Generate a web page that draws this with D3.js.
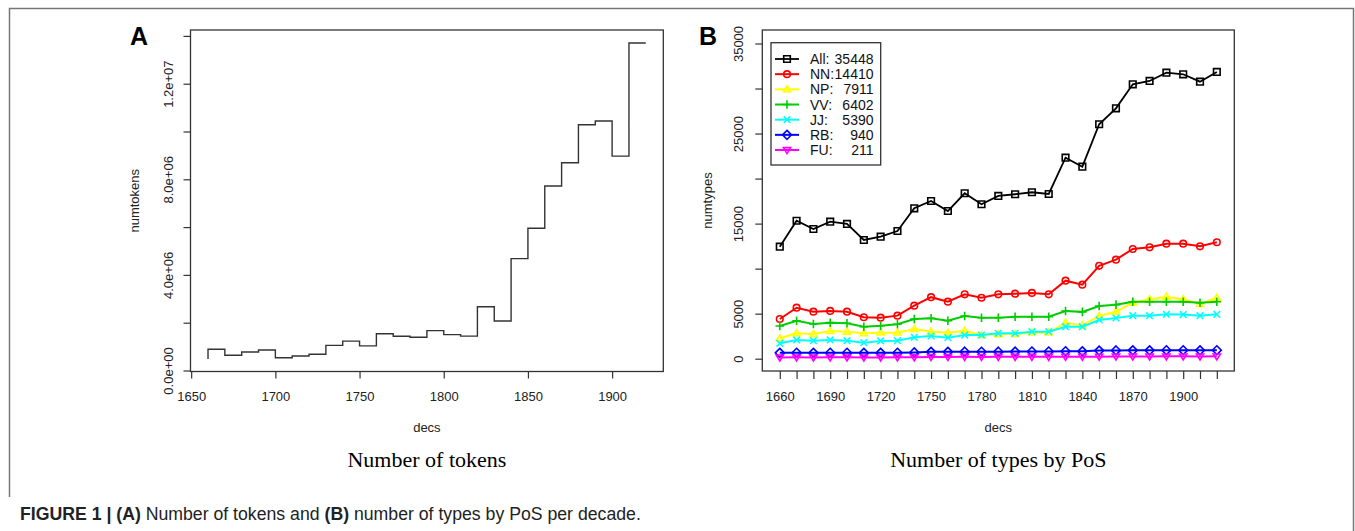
<!DOCTYPE html>
<html>
<head>
<meta charset="utf-8">
<style>
    body { margin: 0; background: #fff; }
    svg { display: block; font-family: "Liberation Sans", Arial, Helvetica, sans-serif; }
    .tick line { stroke: #333; stroke-width: 1.2; }
    .tick text { font-size: 13px; fill: #222; }
</style>
</head>
<body>
<svg width="1355" height="531"></svg>

<script src="https://d3js.org/d3.v7.min.js"></script>
<script>
    // decades used by both panels
    let decades = [1660, 1670, 1680, 1690, 1700, 1710, 1720, 1730, 1740, 1750, 1760, 1770, 1780, 1790,
        1800, 1810, 1820, 1830, 1840, 1850, 1860, 1870, 1880, 1890, 1900, 1910, 1920]

    // panel A: number of tokens per decade
    let numtokens = [4.8e5, 8.87e5, 6.36e5, 7.74e5, 8.58e5, 5.36e5, 6.07e5, 6.78e5, 1.05e6, 1.23e6,
        1.03e6, 1.54e6, 1.43e6, 1.39e6, 1.67e6, 1.50e6, 1.44e6, 2.67e6, 2.07e6, 4.68e6, 5.95e6,
        7.72e6, 8.69e6, 1.028e7, 1.044e7, 8.97e6, 1.370e7]

    // panel B: number of types per PoS
    let typesAll = [12440, 15320, 14400, 15210, 14960, 13180, 13550, 14180, 16700, 17510, 16400, 18370,
        17150, 18070, 18260, 18480, 18290, 22320, 21320, 26030, 27800, 30470, 30840, 31760, 31580, 30760, 31840]
    let typesNN = [4410, 5660, 5220, 5300, 5220, 4600, 4550, 4780, 5890, 6830, 6330, 7150, 6770, 7150,
        7220, 7300, 7150, 8660, 8220, 10310, 11000, 12180, 12370, 12770, 12770, 12480, 12930]
    let typesNP = [2270, 2820, 2740, 3080, 3000, 2820, 2890, 2890, 3300, 3000, 2890, 3110, 2630, 2710,
        2740, 2890, 2890, 4000, 3700, 4740, 5220, 6220, 6600, 6880, 6600, 6070, 6770]
    let typesVV = [3630, 4220, 3850, 4000, 3930, 3550, 3660, 3820, 4410, 4490, 4220, 4740, 4550, 4550,
        4660, 4660, 4660, 5300, 5200, 5850, 6000, 6330, 6330, 6330, 6330, 6220, 6330]
    let typesJJ = [1710, 2080, 2000, 2080, 2000, 1780, 1970, 2000, 2380, 2520, 2330, 2630, 2630, 2820,
        2820, 3000, 3000, 3550, 3550, 4300, 4520, 4780, 4780, 4930, 4900, 4780, 4930]
    let typesRB = [650, 660, 650, 660, 660, 650, 650, 660, 700, 760, 760, 780, 770, 780,
        790, 800, 800, 830, 820, 900, 920, 930, 930, 940, 940, 930, 940]
    let typesFU = [140, 150, 140, 150, 150, 140, 140, 150, 170, 200, 190, 210, 200, 210,
        210, 210, 210, 220, 220, 230, 240, 250, 250, 260, 260, 250, 260]

    let posLabels = ["All:", "NN:", "NP:", "VV:", "JJ:", "RB:", "FU:"]
    let posTotals = [35448, 14410, 7911, 6402, 5390, 940, 211]

    let tokenTicks = [0, 2e6, 4e6, 6e6, 8e6, 1e7, 1.2e7, 1.4e7]
    let tokenLabels = { 0: "0.0e+00", 4e6: "4.0e+06", 8e6: "8.0e+06", 1.2e7: "1.2e+07" }
    let yearTicksA = [1650, 1700, 1750, 1800, 1850, 1900]
    let typeTicks = [0, 5000, 10000, 15000, 20000, 25000, 30000, 35000]
    let typeLabels = [0, 5000, 15000, 25000, 35000]
    let yearLabelsB = [1660, 1690, 1720, 1750, 1780, 1810, 1840, 1870, 1900]

    let series = [
        { values: typesAll, color: "#000000", shape: "square", width: 1.8 },
        { values: typesNN, color: "#ff0000", shape: "circle", width: 2 },
        { values: typesNP, color: "#ffff00", shape: "triangle", width: 2 },
        { values: typesVV, color: "#00cd00", shape: "plus", width: 2 },
        { values: typesJJ, color: "#00ffff", shape: "cross", width: 2 },
        { values: typesRB, color: "#0000ff", shape: "diamond", width: 2 },
        { values: typesFU, color: "#ff00ff", shape: "down", width: 2 }
    ]

    let svg = d3.select("svg")

    // figure frame
    svg.append("path")
        .attr("d", "M9.5,497 V8.5 H1353.5 V531")
        .style("fill", "none")
        .style("stroke", "#777")
        .style("stroke-width", 1.5)

    // marker shapes like R's pch 0..6
    function marker(shape, s) {
        let h = s * Math.sqrt(3)
        if (shape == "square") return `M${-s},${-s}h${2 * s}v${2 * s}h${-2 * s}Z`
        if (shape == "circle") return `M${-s},0a${s},${s} 0 1,0 ${2 * s},0a${s},${s} 0 1,0 ${-2 * s},0`
        if (shape == "triangle") return `M0,${-h * 0.62}L${s * 1.1},${h * 0.42}L${-s * 1.1},${h * 0.42}Z`
        if (shape == "down") return `M0,${h * 0.62}L${s * 1.1},${-h * 0.42}L${-s * 1.1},${-h * 0.42}Z`
        if (shape == "plus") return `M${-s * 1.3},0H${s * 1.3}M0,${-s * 1.3}V${s * 1.3}`
        if (shape == "cross") return `M${-s},${-s}L${s},${s}M${-s},${s}L${s},${-s}`
        if (shape == "diamond") return `M0,${-s * 1.35}L${s * 1.35},0L0,${s * 1.35}L${-s * 1.35},0Z`
    }

    function rotateYLabels(g, off) {
        g.selectAll(".tick text")
            .attr("transform", "rotate(-90)")
            .attr("x", 0)
            .attr("y", -off)
            .attr("dy", null)
            .style("text-anchor", "middle")
    }

    // ---------- panel A ----------
    let boxA = { left: 190.5, right: 663.3, top: 30, bottom: 371.5 }

    let xA = d3.scaleLinear()
        .domain([1649.6, 1930.4])
        .range([boxA.left, boxA.right])

    let yA = d3.scaleLinear()
        .domain([-4.2e4, 1.4247e7])
        .range([boxA.bottom, boxA.top])

    svg.append("rect")
        .attr("x", boxA.left).attr("y", boxA.top)
        .attr("width", boxA.right - boxA.left).attr("height", boxA.bottom - boxA.top)
        .style("fill", "none").style("stroke", "#333").style("stroke-width", 1.3)

    let axAy = svg.append("g")
        .attr("transform", `translate(${boxA.left},0)`)
        .call(d3.axisLeft(yA).tickValues(tokenTicks).tickSize(7)
            .tickFormat(d => tokenLabels[d] || ""))
    axAy.select(".domain").remove()
    rotateYLabels(axAy, 18)

    let axAx = svg.append("g")
        .attr("transform", `translate(0,${boxA.bottom})`)
        .call(d3.axisBottom(xA).tickValues(yearTicksA).tickSize(7).tickPadding(13.5)
            .tickFormat(d3.format("d")))
    axAx.select(".domain").remove()

    let stepLine = d3.line()
        .x((d, i) => xA(decades[i]))
        .y(d => yA(d))
        .curve(d3.curveStepBefore)

    svg.append("path")
        .datum(numtokens)
        .attr("d", stepLine)
        .style("fill", "none")
        .style("stroke", "#333")
        .style("stroke-width", 1.4)

    svg.append("text")
        .attr("transform", `translate(139,${(boxA.top + boxA.bottom) / 2}) rotate(-90)`)
        .style("text-anchor", "middle").style("font-size", "13px").style("fill", "#222")
        .text("numtokens")

    svg.append("text")
        .attr("x", (boxA.left + boxA.right) / 2).attr("y", 432)
        .style("text-anchor", "middle").style("font-size", "13px").style("fill", "#222")
        .text("decs")

    svg.append("text")
        .attr("x", (boxA.left + boxA.right) / 2).attr("y", 467)
        .style("text-anchor", "middle").style("font-size", "22px")
        .style("font-family", "'Liberation Serif', 'Times New Roman', serif")
        .text("Number of tokens")

    svg.append("text")
        .attr("x", 130).attr("y", 45)
        .style("font-size", "25px").style("font-weight", "bold")
        .text("A")

    // ---------- panel B ----------
    let boxB = { left: 762.3, right: 1234.3, top: 30, bottom: 371 }

    let xB = d3.scaleLinear()
        .domain([1649.6, 1930.4])
        .range([boxB.left, boxB.right])

    let yB = d3.scaleLinear()
        .domain([-1366, 36498])
        .range([boxB.bottom, boxB.top])

    svg.append("rect")
        .attr("x", boxB.left).attr("y", boxB.top)
        .attr("width", boxB.right - boxB.left).attr("height", boxB.bottom - boxB.top)
        .style("fill", "none").style("stroke", "#333").style("stroke-width", 1.3)

    let axBy = svg.append("g")
        .attr("transform", `translate(${boxB.left},0)`)
        .call(d3.axisLeft(yB).tickValues(typeTicks).tickSize(7)
            .tickFormat(d => typeLabels.includes(d) ? d : ""))
    axBy.select(".domain").remove()
    rotateYLabels(axBy, 19)

    let axBx = svg.append("g")
        .attr("transform", `translate(0,${boxB.bottom})`)
        .call(d3.axisBottom(xB).tickValues(decades).tickSize(8).tickPadding(13)
            .tickFormat(d => yearLabelsB.includes(d) ? d : ""))
    axBx.select(".domain").remove()

    let lineB = d3.line()
        .x((d, i) => xB(decades[i]))
        .y(d => yB(d))

    series.forEach(s => {
        svg.append("path")
            .datum(s.values)
            .attr("d", lineB)
            .style("fill", "none")
            .style("stroke", s.color)
            .style("stroke-width", s.width)

        svg.selectAll(null)
            .data(s.values)
            .join("path")
            .attr("transform", (d, i) => `translate(${xB(decades[i])},${yB(d)})`)
            .attr("d", marker(s.shape, 3.3))
            .style("fill", "none")
            .style("stroke", s.color)
            .style("stroke-width", 1.6)
    })

    // legend
    let legend = svg.append("g")
    legend.append("rect")
        .attr("x", 771).attr("y", 42.7).attr("width", 109.7).attr("height", 122.3)
        .style("fill", "#fff").style("stroke", "#333").style("stroke-width", 1.3)

    let rows = legend.selectAll(".row")
        .data(series)
        .join("g")
        .attr("transform", (d, i) => `translate(0,${59 + i * 15.17})`)

    rows.append("line")
        .attr("x1", 775).attr("x2", 799)
        .style("stroke", d => d.color).style("stroke-width", d => d.width)
    rows.append("path")
        .attr("transform", "translate(787,0)")
        .attr("d", d => marker(d.shape, 3.3))
        .style("fill", "none").style("stroke", d => d.color).style("stroke-width", 1.6)
    rows.append("text")
        .attr("x", 810).attr("dy", "0.36em")
        .style("font-size", "14px").style("fill", "#111")
        .text((d, i) => posLabels[i])
    rows.append("text")
        .attr("x", 873.5).attr("dy", "0.36em")
        .style("font-size", "14px").style("fill", "#111").style("text-anchor", "end")
        .text((d, i) => posTotals[i])

    svg.append("text")
        .attr("transform", `translate(712,${(boxB.top + boxB.bottom) / 2}) rotate(-90)`)
        .style("text-anchor", "middle").style("font-size", "13px").style("fill", "#222")
        .text("numtypes")

    svg.append("text")
        .attr("x", (boxB.left + boxB.right) / 2).attr("y", 432)
        .style("text-anchor", "middle").style("font-size", "13px").style("fill", "#222")
        .text("decs")

    svg.append("text")
        .attr("x", (boxB.left + boxB.right) / 2).attr("y", 467)
        .style("text-anchor", "middle").style("font-size", "22px")
        .style("font-family", "'Liberation Serif', 'Times New Roman', serif")
        .text("Number of types by PoS")

    svg.append("text")
        .attr("x", 699).attr("y", 45)
        .style("font-size", "25px").style("font-weight", "bold")
        .text("B")

    // caption
    let caption = svg.append("text")
        .attr("x", 20).attr("y", 520)
        .style("font-size", "16px").style("fill", "#222")
    caption.append("tspan").style("font-weight", "bold").text("FIGURE 1 | (A)")
    caption.append("tspan").text(" Number of tokens and ")
    caption.append("tspan").style("font-weight", "bold").text("(B)")
    caption.append("tspan").text(" number of types by PoS per decade.")

    // fit caption width to the reference (ends near x = 641)
    let w = caption.node().getComputedTextLength()
    caption.style("font-size", (16 * 621 / w).toFixed(2) + "px")
</script>
</body>
</html>
